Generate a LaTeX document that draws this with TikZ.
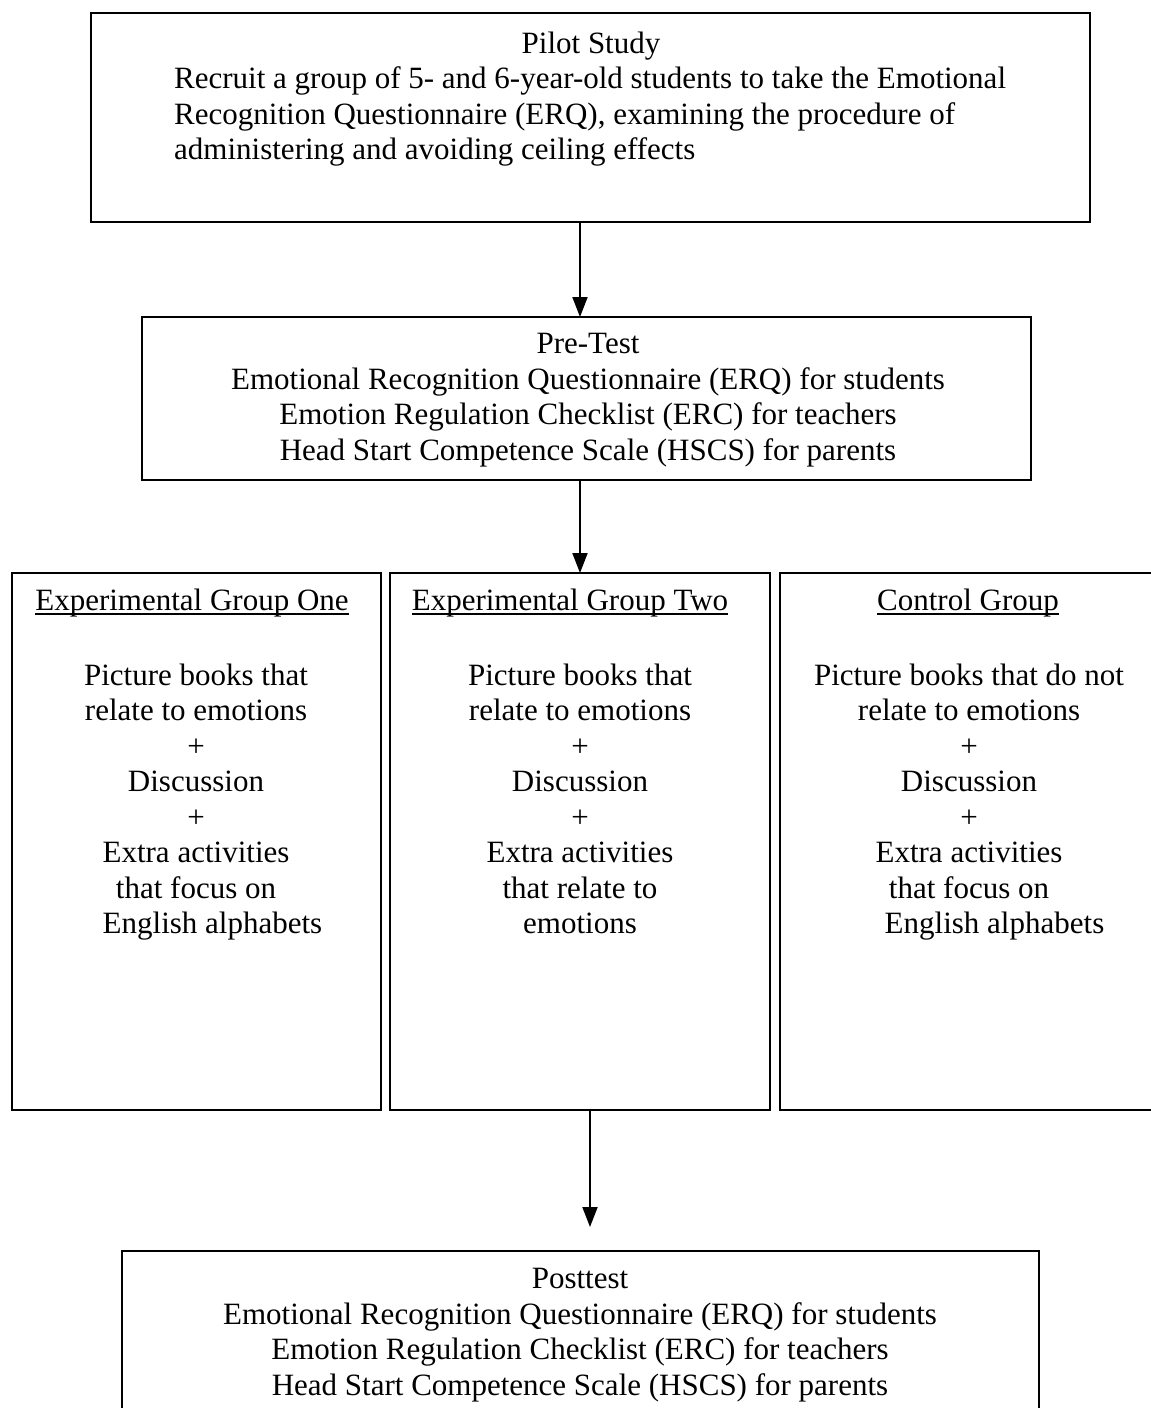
\documentclass[tikz,border=0pt]{standalone}
\usepackage{fontspec}
\setmainfont{Liberation Serif}
\usetikzlibrary{arrows.meta}
\newcommand\myul[1]{\setbox0\hbox{#1}\rlap{\rule[-5pt]{\wd0}{2pt}}\box0}
\begin{document}
\begin{tikzpicture}[x=1pt,y=-1pt,
  box/.style={draw, line width=2.4pt, inner sep=0pt, outer sep=0pt},
  txt/.style={font=\fontsize{31}{35.5}\selectfont, align=center, inner sep=0pt},
  arr/.style={line width=2pt, -{Triangle[width=15pt,length=20pt]}}]
\useasboundingbox (0,0) rectangle (1151,1408);
\clip (0,0) rectangle (1151,1408);
% boxes
\node[box, minimum width=999pt, minimum height=209pt] (pilot) at (590.5,117.5) {};
\node[box, minimum width=889pt, minimum height=163pt] (pre) at (586.5,398.5) {};
\node[box, minimum width=369pt, minimum height=537pt] (g1) at (196.5,841.5) {};
\node[box, minimum width=380pt, minimum height=537pt] (g2) at (580,841.5) {};
\node[box, minimum width=380pt, minimum height=537pt] (g3) at (970,841.5) {};
\node[box, minimum width=917pt, minimum height=179pt] (post) at (580.5,1340.5) {};
% texts
\node[txt, anchor=base] (pilott) at (591,53) {Pilot Study};
\node[txt, align=left, anchor=west] (pilotb) at (174,116.5) {Recruit a group of 5- and 6-year-old students to take the Emotional\\Recognition Questionnaire (ERQ), examining the procedure of\\administering and avoiding ceiling effects};
\node[txt] (pret) at (588,400) {Pre-Test\\Emotional Recognition Questionnaire (ERQ) for students\\Emotion Regulation Checklist (ERC) for teachers\\Head Start Competence Scale (HSCS) for parents};
\node[txt, anchor=base] (h1) at (192,610) {\myul{Experimental Group One}};
\node[txt, anchor=base] (h2) at (570,610) {\myul{Experimental Group Two}};
\node[txt, anchor=base] (h3) at (968,610) {\myul{Control Group}};
\node[txt] (b1) at (196,802) {Picture books that\\relate to emotions\\+\\Discussion\\+\\Extra activities\\that focus on\\\hspace*{33pt}English alphabets};
\node[txt] (b2) at (580,799) {Picture books that\\relate to emotions\\+\\Discussion\\+\\Extra activities\\that relate to\\emotions};
\node[txt] (b3) at (969,802) {Picture books that do not\\relate to emotions\\+\\Discussion\\+\\Extra activities\\that focus on\\\hspace*{51pt}English alphabets};
\node[txt] (postt) at (580,1335) {Posttest\\Emotional Recognition Questionnaire (ERQ) for students\\Emotion Regulation Checklist (ERC) for teachers\\Head Start Competence Scale (HSCS) for parents};
% connectors
\coordinate (xa) at (580,0);
\coordinate (xb) at (590,0);
\coordinate (end3) at (590,1227);
\draw[arr] (pilot.south -| xa) -- (pre.north -| xa);
\draw[arr] (pre.south -| xa) -- (g2.north -| xa);
\draw[arr] (g2.south -| xb) -- (end3);
\end{tikzpicture}
\end{document}
